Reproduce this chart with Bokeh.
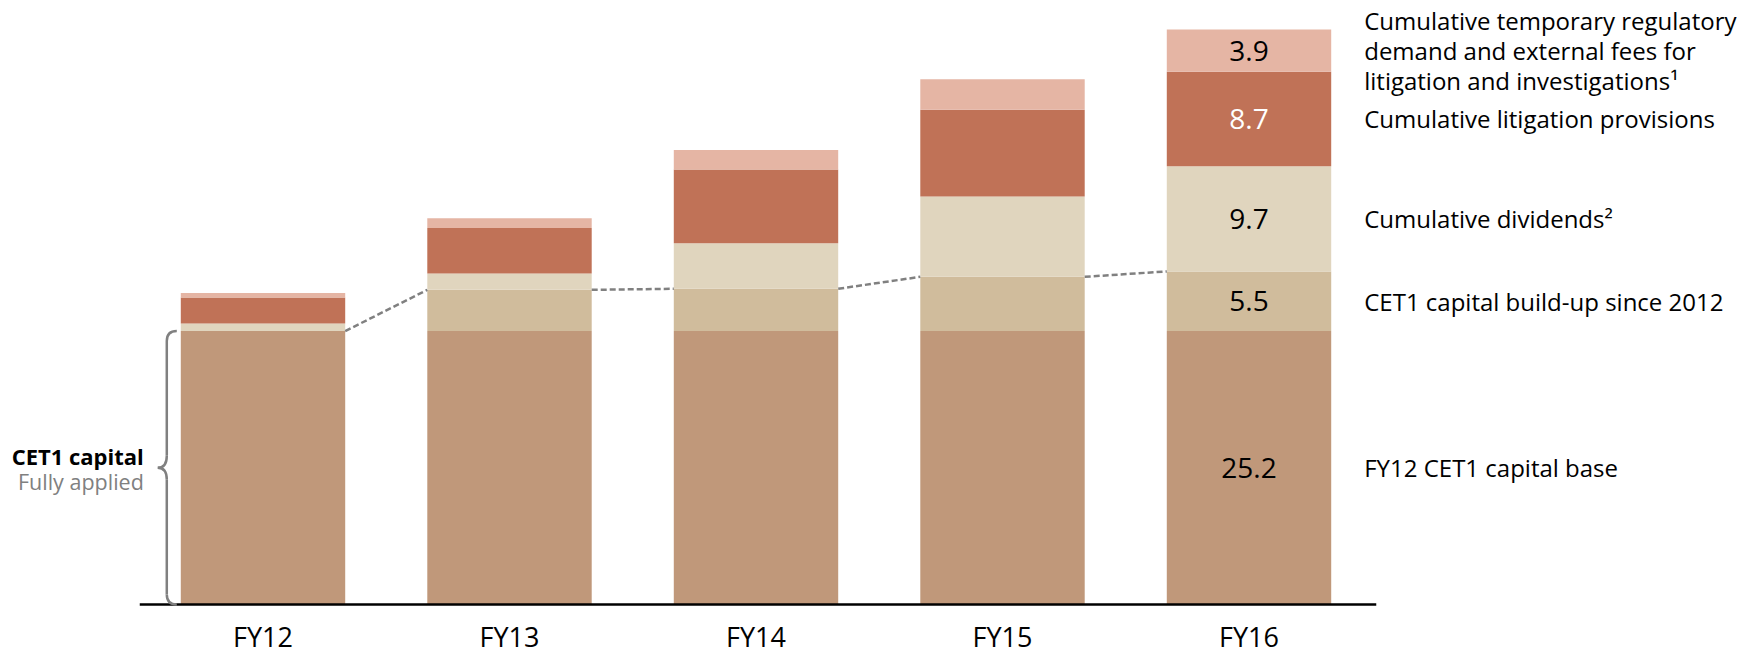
from bokeh.plotting import figure
from bokeh.models import Range1d, ColumnDataSource
from bokeh.core.properties import value
from bokeh.embed import file_html
from bokeh.resources import INLINE

# ---------------- data ----------------
years = ["FY12", "FY13", "FY14", "FY15", "FY16"]
base_capital = [25.2, 25.2, 25.2, 25.2, 25.2]
buildup = [0.0, 3.8, 3.9, 5.0, 5.5]
dividends = [0.7, 1.5, 4.2, 7.4, 9.7]
litigation = [2.4, 4.2, 6.8, 8.0, 8.7]
regulatory = [0.4, 0.9, 1.8, 2.8, 3.9]

series_keys = ["base", "buildup", "dividends", "litigation", "regulatory"]
series_labels = [
    "FY12 CET1 capital base",
    "CET1 capital build-up since 2012",
    "Cumulative dividends\u00b2",
    "Cumulative litigation provisions",
    "Cumulative temporary regulatory\ndemand and external fees for\nlitigation and investigations\u00b9",
]
left_title = "CET1 capital"
left_subtitle = "Fully applied"

# ---------------- styles ----------------
colors = ["#C0987A", "#D0BC9C", "#E0D5BE", "#C07257", "#E5B5A4"]
value_label_colors = ["black", "black", "black", "white", "black"]
FONT = "Open Sans"
W, H = 1741, 654
PX_PER_CAT = 246.5
PX_PER_UNIT = 10.85
X0_PX = 262.5
BASE_PX = 604
BAR_W = 0.667


def dx(px):
    return px / PX_PER_CAT


def dy(px):
    return px / PX_PER_UNIT


xs = list(range(len(years)))
src = ColumnDataSource(dict(
    x=xs, years=years, base=base_capital, buildup=buildup,
    dividends=dividends, litigation=litigation, regulatory=regulatory,
))

p = figure(
    width=W, height=H,
    x_range=Range1d(-X0_PX / PX_PER_CAT, (W - X0_PX) / PX_PER_CAT),
    y_range=Range1d(-(H - BASE_PX) / PX_PER_UNIT, BASE_PX / PX_PER_UNIT),
    x_axis_type=None, y_axis_type=None,
    output_backend="svg", toolbar_location=None,
    min_border=0, outline_line_color=None,
)
p.background_fill_color = "white"
p.border_fill_color = "white"

p.vbar_stack(series_keys, x="x", width=BAR_W, source=src,
             fill_color=colors, line_color=None)

# dashed connectors of the CET1 capital level
cet1 = [b + u for b, u in zip(base_capital, buildup)]
p.segment(x0=[x + BAR_W / 2 for x in xs[:-1]], y0=cet1[:-1],
          x1=[x + 1 - BAR_W / 2 for x in xs[:-1]], y1=cet1[1:],
          line_color="#808080", line_width=2.5, line_dash="6 3")

# baseline
p.segment(x0=[xs[0] - 0.5], y0=[0], x1=[xs[-1] + 0.5 + dx(4)], y1=[0],
          line_color="black", line_width=2.5)

# category labels
p.text(x=xs, y=[-dy(32)] * len(xs), text=years, text_align="center",
       text_baseline="middle", text_font=value(FONT),
       text_font_size="27px", text_color="black")

# segment values in last bar and series labels on the right
last = len(years) - 1
vals = [base_capital[last], buildup[last], dividends[last], litigation[last], regulatory[last]]
centers = []
cum = 0.0
for v in vals:
    centers.append(cum + v / 2)
    cum += v
p.text(x=[last] * len(vals), y=centers, text=[f"{v:.1f}" for v in vals],
       text_align="center", text_baseline="middle", text_font=value(FONT),
       text_font_size="28px", text_color=value_label_colors)
p.text(x=[last + BAR_W / 2 + dx(33)] * len(vals), y=centers, text=series_labels,
       text_align="left", text_baseline="middle", text_font=value(FONT),
       text_font_size="24px", text_color="black", text_line_height=0.92)

# brace on the left of the first bar
xv = xs[0] - BAR_W / 2 - dx(14)
xt = xs[0] - BAR_W / 2 - dx(4)
xm = xs[0] - BAR_W / 2 - dx(23)
top = cet1[0]
bot = 0.0
mid = (top + bot) / 2
r = dy(10)
rm = dy(12)
gray = "#808080"
p.quadratic(x0=[xt, xv, xm, xv], y0=[top, mid + rm, mid, bot + r],
            cx=[xv, xv, xv, xv], cy=[top, mid, mid, bot],
            x1=[xv, xm, xv, xt], y1=[top - r, mid, mid - rm, bot],
            line_color=gray, line_width=2.5)
p.segment(x0=[xv, xv], y0=[top - r, mid - rm], x1=[xv, xv], y1=[mid + rm, bot + r],
          line_color=gray, line_width=2.5)

p.text(x=[xm - dx(14)], y=[mid + dy(11.5)], text=[left_title], text_align="right",
       text_baseline="middle", text_font=value(FONT), text_font_size="22px",
       text_font_style="bold", text_color="black")
p.text(x=[xm - dx(14)], y=[mid - dy(14)], text=[left_subtitle], text_align="right",
       text_baseline="middle", text_font=value(FONT), text_font_size="21.5px",
       text_color="#808080")

open("out.html", "w").write(file_html(p, INLINE))
